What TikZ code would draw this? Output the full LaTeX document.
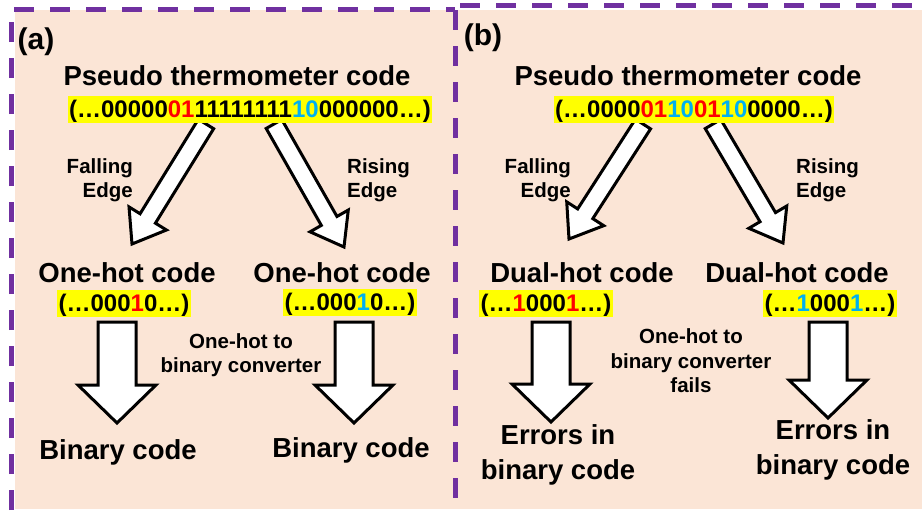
\documentclass[tikz,border=0pt]{standalone}
\usepackage{fontspec}
\setmainfont{Liberation Sans}
\usepackage{xcolor}
\usetikzlibrary{calc,positioning}

\definecolor{bgpeach}{HTML}{FBE5D6}
\definecolor{framepurple}{HTML}{7030A0}
\definecolor{hlyellow}{HTML}{FFFF00}
\definecolor{bitred}{HTML}{FF0000}
\definecolor{bitblue}{HTML}{00B0F0}

\newcommand{\rb}[1]{\textcolor{bitred}{#1}}
\newcommand{\bb}[1]{\textcolor{bitblue}{#1}}

\tikzset{
  heading/.style={font=\bfseries\fontsize{27.5}{35}\selectfont, inner sep=0pt, align=center},
  bits/.style={fill=hlyellow, font=\bfseries\fontsize{24}{28}\selectfont, inner sep=0pt, inner xsep=1.5pt, text height=21.5pt, text depth=5.5pt},
  smalllabel/.style={font=\bfseries\fontsize{20.5}{24.5}\selectfont, inner sep=0pt},
  panellabel/.style={font=\bfseries\fontsize{30}{36}\selectfont, inner sep=0pt},
  fatarrow/.style={draw=black, line width=3pt, fill=white, line join=miter},
  panelframe/.style={draw=framepurple, line width=5pt, dash pattern=on 20pt off 16pt}
}

% block arrow: start, tip, shaft half width, head half width, head length
\newcommand{\blockarrow}[5]{%
  \draw[fatarrow] let \p1=($(#2)-(#1)$), \n1={atan2(\y1,\x1)}, \n2={veclen(\x1,\y1)} in
    [shift={(#1)}, rotate=\n1]
    (0,-#3) -- (\n2-#5,-#3) -- (\n2-#5,-#4) -- (\n2,0) -- (\n2-#5,#4) -- (\n2-#5,#3) -- (0,#3) -- cycle;
}

\begin{document}
\begin{tikzpicture}[x=1pt, y=-1pt]
    \useasboundingbox (0,0) rectangle (922,515);

    % Background and dashed frames
    \fill[bgpeach] (15,10) rectangle (922,509);
    \draw[panelframe] (11,510) -- (11,9) -- (455,9);
    \draw[panelframe] (455,10) -- (455,510);
    \draw[panelframe] (460,5) -- (922,5);

    % Arrow ends
    \coordinate (a1s) at (206,124);  \coordinate (a1e) at (132,244);
    \coordinate (a2s) at (274,124);  \coordinate (a2e) at (344,247);
    \coordinate (a3s) at (117,322);  \coordinate (a3e) at (117,423);
    \coordinate (a4s) at (354,322);  \coordinate (a4e) at (354,423);
    \coordinate (b1s) at (643,124);  \coordinate (b1e) at (569,239);
    \coordinate (b2s) at (713,124);  \coordinate (b2e) at (783,243);
    \coordinate (b3s) at (551,322);  \coordinate (b3e) at (551,422);
    \coordinate (b4s) at (828,322);  \coordinate (b4e) at (828,418);

    % Block arrows
    \foreach \side in {a,b} {
        \blockarrow{\side1s}{\side1e}{9}{22}{30}
        \blockarrow{\side2s}{\side2e}{9}{22}{30}
        \blockarrow{\side3s}{\side3e}{19}{39}{38}
        \blockarrow{\side4s}{\side4e}{19}{39}{38}
    }

    % Panel labels
    \node[panellabel] (labA) at (36,42) {(a)};
    \node[panellabel] (labB) at (483,38) {(b)};

    % ---------------- (a) ----------------
    \node[heading] (thermA) at (237,76) {Pseudo thermometer code};
    \node[bits] (thermbitsA) at (250,109) {(…00000\rb{01}11111111\bb{10}000000…)};

    \node[smalllabel, align=right, anchor=east] (fallA) at (133,180) {Falling\\Edge};
    \node[smalllabel, align=left, anchor=west] (riseA) at (347,180) {Rising\\Edge};

    \node[heading] (hotL) at (127,273) {One-hot code};
    \node[heading] (hotR) at (342,273) {One-hot code};
    \node[bits] (hotbitsL) at (124,303) {(…000\rb{1}0…)};
    \node[bits] (hotbitsR) at (350,302) {(…000\bb{1}0…)};

    \node[smalllabel, align=center] (convA) at (241,355) {One-hot to\\binary converter};

    \node[heading] (binL) at (118,452) {Binary code};
    \node[heading] (binR) at (351,450) {Binary code};

    % ---------------- (b) ----------------
    \node[heading] (thermB) at (688,76) {Pseudo thermometer code};
    \node[bits] (thermbitsB) at (694,109) {(…0000\rb{01}\bb{10}\rb{01}\bb{10}0000…)};

    \node[smalllabel, align=right, anchor=east] (fallB) at (571,180) {Falling\\Edge};
    \node[smalllabel, align=left, anchor=west] (riseB) at (796,180) {Rising\\Edge};

    \node[heading] (dualL) at (582,273) {Dual-hot code};
    \node[heading] (dualR) at (797,273) {Dual-hot code};
    \node[bits] (dualbitsL) at (546,303) {(…\rb{1}000\rb{1}…)};
    \node[bits] (dualbitsR) at (830,303) {(…\bb{1}000\bb{1}…)};

    \node[smalllabel, align=center] (convB) at (691,361) {One-hot to\\binary converter\\fails};

    \node[heading] (errL) at (558,455) {Errors in\\binary code};
    \node[heading] (errR) at (833,450) {Errors in\\binary code};
\end{tikzpicture}
\end{document}
